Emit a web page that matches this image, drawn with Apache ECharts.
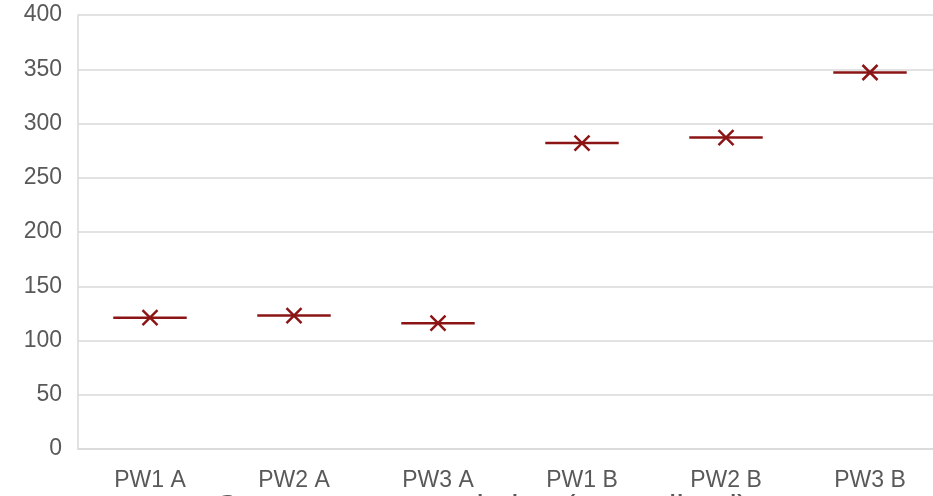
<!DOCTYPE html>
<html>
<head>
<meta charset="utf-8">
<script src="https://cdn.jsdelivr.net/npm/echarts@6/dist/echarts.min.js"></script>
<style>
  html, body { margin: 0; padding: 0; background: #ffffff; overflow: hidden; }
  #chart { width: 933px; height: 496px; }
</style>
</head>
<body>
<div id="chart"></div>
<script>
// Categories and the measured value for each run
const categories = ['PW1 A', 'PW2 A', 'PW3 A', 'PW1 B', 'PW2 B', 'PW3 B'];
const values = [121, 123, 116, 282, 287, 347];
const yTicks = { min: 0, max: 400, interval: 50 };
const axisTitle = 'Sensor output variation (normalized)';

const markColor = '#8B1414';

const chart = echarts.init(document.getElementById('chart'), null, { renderer: 'canvas' });

// Each mark: a short horizontal bar across the category band with an "x" at its centre
function renderMark(params, api) {
  const pt = api.coord([api.value(0), api.value(1)]);
  const band = api.size([1, 0])[0];
  const half = band * 0.255;
  const s = 7.5;
  const style = { stroke: markColor, lineWidth: 2.5, fill: null };
  return {
    type: 'group',
    children: [
      { type: 'line', shape: { x1: pt[0] - half, y1: pt[1], x2: pt[0] + half, y2: pt[1] }, style: style },
      { type: 'line', shape: { x1: pt[0] - s, y1: pt[1] - s, x2: pt[0] + s, y2: pt[1] + s }, style: style },
      { type: 'line', shape: { x1: pt[0] - s, y1: pt[1] + s, x2: pt[0] + s, y2: pt[1] - s }, style: style }
    ]
  };
}

chart.setOption({
  animation: false,
  backgroundColor: '#ffffff',
  textStyle: { fontFamily: 'Liberation Sans, Arial, sans-serif' },
  // plot area runs past the right edge of the canvas
  grid: { left: 78, width: 864, top: 15, height: 434, containLabel: false, outerBoundsMode: 'none' },
  xAxis: {
    type: 'category',
    data: categories,
    axisLine: { show: true, lineStyle: { color: '#d9d9d9', width: 1.5 } },
    axisTick: { show: false },
    axisLabel: { color: '#595959', fontSize: 23, margin: 20, fontFamily: 'Liberation Sans, Arial, sans-serif' },
    splitLine: { show: false }
  },
  yAxis: {
    type: 'value',
    min: yTicks.min,
    max: yTicks.max,
    interval: yTicks.interval,
    axisLine: { show: true, lineStyle: { color: '#d9d9d9', width: 1.5 } },
    axisTick: { show: false },
    axisLabel: { color: '#595959', fontSize: 23, margin: 16, fontFamily: 'Liberation Sans, Arial, sans-serif' },
    splitLine: { show: true, lineStyle: { color: '#d9d9d9', width: 1.5 } }
  },
  series: [{
    type: 'custom',
    renderItem: renderMark,
    data: categories.map((c, i) => [i, values[i]]),
    encode: { x: 0, y: 1 },
    clip: false
  }],
  graphic: [{
    type: 'text',
    x: 482,
    y: 492,
    style: {
      text: axisTitle,
      fill: '#595959',
      align: 'center',
      verticalAlign: 'top',
      font: '33px "Liberation Sans", Arial, sans-serif'
    }
  }]
});
</script>
</body>
</html>
